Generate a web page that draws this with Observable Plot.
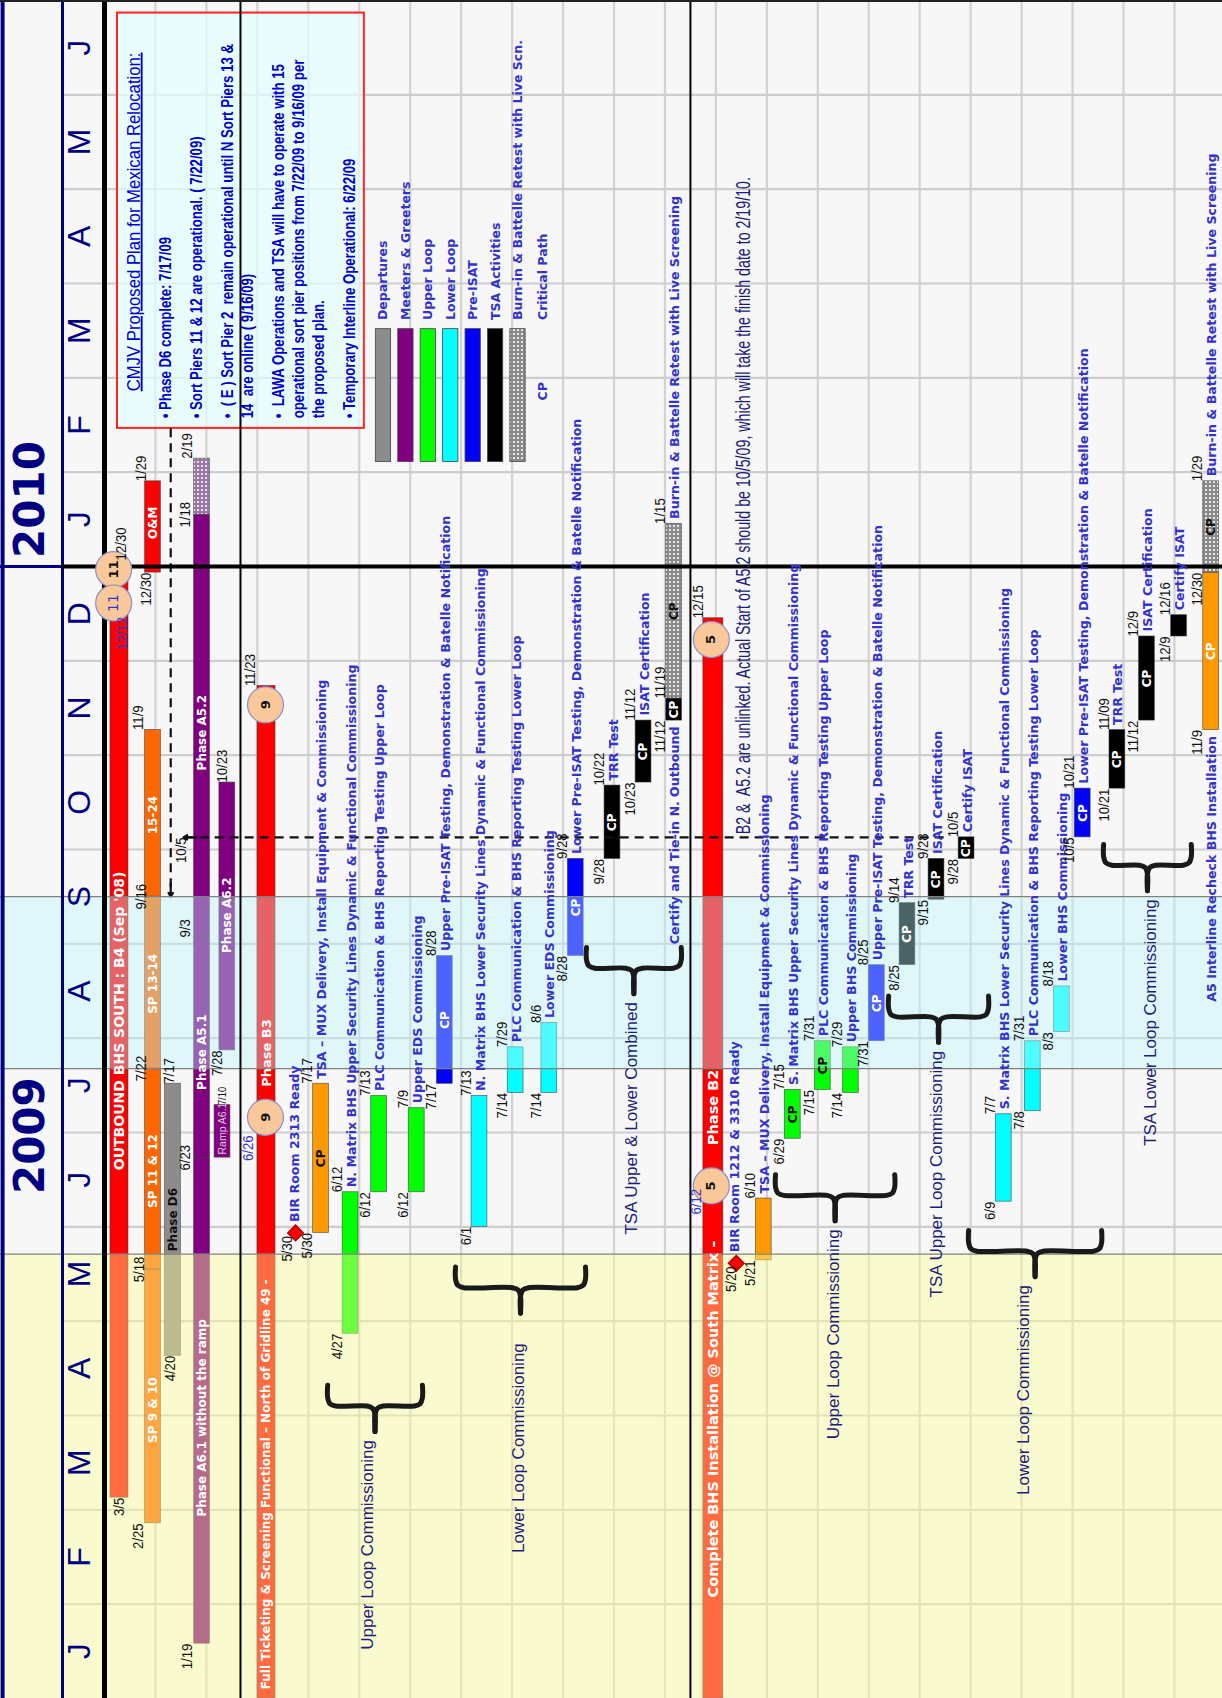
<!DOCTYPE html>
<html><head><meta charset="utf-8">
<script src="https://cdn.jsdelivr.net/npm/d3@7"></script>
<script src="https://cdn.jsdelivr.net/npm/@observablehq/plot@0.6"></script>
<style>
html,body{margin:0;padding:0;background:#f7f7f7;}
#chart{width:1222px;height:1698px;overflow:hidden;}
</style></head><body><div id="chart"></div>
<script>
// ---------------- data ----------------
const months = ["J","F","M","A","M","J","J","A","S","O","N","D","J","F","M","A","M","J"];
const years = [{label:"2009", at:"2009-06-30"}, {label:"2010", at:"2010-01-23"}];

const categories = ["Phase","Sort Piers","Installation","Departures","Meeters & Greeters","Upper Loop","Lower Loop","Pre-ISAT","TSA Activities","Burn-in","Burn-in M&G"];

const tasks = [
 {id:"B4", lane:0.294, start:"2009-03-05", end:"2009-12-30", cat:"Phase", inner:"OUTBOUND BHS SOUTH : B4 (Sep '08)", innerAt:"2009-06-19"},
 {id:"SP9", lane:0.952, start:"2009-02-25", end:"2009-05-18", cat:"Sort Piers", inner:"SP 9 & 10", innerAt:"2009-03-23"},
 {id:"SP11", lane:0.952, start:"2009-05-18", end:"2009-07-22", cat:"Sort Piers", inner:"SP 11 & 12", innerAt:"2009-06-07"},
 {id:"SP13", lane:0.952, start:"2009-07-22", end:"2009-09-16", cat:"Sort Piers", inner:"SP 13-14", innerAt:"2009-08-09"},
 {id:"SP15", lane:0.952, start:"2009-09-16", end:"2009-11-09", cat:"Sort Piers", inner:"15-24", innerAt:"2009-10-06"},
 {id:"OM", lane:0.952, start:"2009-12-30", end:"2010-01-29", cat:"Phase", inner:"O&M", innerAt:"2010-01-10"},
 {id:"D6", lane:1.344, start:"2009-04-20", end:"2009-07-17", cat:"Departures", inner:"Phase D6", innerAt:"2009-05-24"},
 {id:"A61", lane:1.914, start:"2009-01-19", end:"2009-06-23", cat:"Meeters & Greeters", inner:"Phase A6.1 without the ramp", innerAt:"2009-02-27"},
 {id:"A51", lane:1.914, start:"2009-06-23", end:"2009-09-03", cat:"Meeters & Greeters", inner:"Phase A5.1", innerAt:"2009-07-15"},
 {id:"A52", lane:1.914, start:"2009-09-03", end:"2010-01-18", cat:"Meeters & Greeters", inner:"Phase A5.2", innerAt:"2009-10-27"},
 {id:"A52B", lane:1.914, start:"2010-01-18", end:"2010-02-05", cat:"Burn-in M&G"},
 {id:"RAMP", lane:2.316, start:"2009-06-23", end:"2009-07-10", cat:"Meeters & Greeters", inner:"Ramp A6.1", innerAt:"2009-06-24"},
 {id:"A62", lane:2.41, start:"2009-07-28", end:"2009-10-23", cat:"Meeters & Greeters", inner:"Phase A6.2", innerAt:"2009-08-29"},
 {id:"B3", lane:3.18, start:"2009-01-01", end:"2009-11-23", cat:"Phase", inner:"Full Ticketing & Screening Functional \u2013 North of Gridline 49 -", innerAt:"2009-01-04", inner2:"Phase B3", inner2At:"2009-07-16"},
 {id:"TSAN", lane:4.25, start:"2009-05-30", end:"2009-07-17", cat:"Installation", sl:"5/30", el:"7/17", cp:"black", desc:"TSA \u2013 MUX Delivery, Install Equipment & Commissioning"},
 {id:"NUS", lane:4.83, start:"2009-04-27", end:"2009-06-12", cat:"Upper Loop", sl:"4/27", el:"6/12", desc:"N. Matrix BHS Upper Security Lines Dynamic & Functional Commissioning"},
 {id:"NPU", lane:5.39, start:"2009-06-12", end:"2009-07-13", cat:"Upper Loop", sl:"6/12", el:"7/13", desc:"PLC Communication & BHS Reporting Testing Upper Loop"},
 {id:"UEDS", lane:6.13, start:"2009-06-12", end:"2009-07-09", cat:"Upper Loop", sl:"6/12", el:"7/9", desc:"Upper EDS Commissioning"},
 {id:"NUPI", lane:6.68, start:"2009-07-17", end:"2009-08-28", cat:"Pre-ISAT", sl:"7/17", el:"8/28", cp:"white", desc:"Upper Pre-ISAT Testing, Demonstration & Batelle Notification"},
 {id:"NLS", lane:7.36, start:"2009-06-01", end:"2009-07-13", cat:"Lower Loop", sl:"6/1", el:"7/13", desc:"N. Matrix BHS Lower Security Lines Dynamic & Functional Commissioning"},
 {id:"NPL", lane:8.07, start:"2009-07-14", end:"2009-07-29", cat:"Lower Loop", sl:"7/14", el:"7/29", desc:"PLC Communication & BHS Reporting Testing Lower Loop"},
 {id:"LEDS", lane:8.73, start:"2009-07-14", end:"2009-08-06", cat:"Lower Loop", sl:"7/14", el:"8/6", desc:"Lower EDS Commissioning"},
 {id:"NLPI", lane:9.25, start:"2009-08-28", end:"2009-09-28", cat:"Pre-ISAT", sl:"8/28", el:"9/28", cp:"white", desc:"Lower Pre-ISAT Testing, Demonstration & Batelle Notification"},
 {id:"NTRR", lane:9.97, start:"2009-09-28", end:"2009-10-22", cat:"TSA Activities", sl:"9/28", el:"10/22", cp:"white", desc:"TRR Test"},
 {id:"NISAT", lane:10.58, start:"2009-10-23", end:"2009-11-12", cat:"TSA Activities", sl:"10/23", el:"11/12", cp:"white", desc:"ISAT Certification"},
 {id:"NCERT", lane:11.18, start:"2009-11-12", end:"2009-11-19", cat:"TSA Activities", sl:"11/12", el:"11/19", cp:"white", desc:"Certify and Tie-in N. Outbound", descBefore:true},
 {id:"NBURN", lane:11.18, start:"2009-11-19", end:"2010-01-15", cat:"Burn-in", el:"1/15", cp:"black", desc:"Burn-in & Battelle Retest with Live Screening"},
 {id:"B2", lane:11.95, start:"2009-01-01", end:"2009-12-15", cat:"Phase", inner:"Complete BHS Installation @ South Matrix \u2013", innerAt:"2009-02-03", inner2:"Phase B2", inner2At:"2009-06-27"},
 {id:"TSAS", lane:12.94, start:"2009-05-21", end:"2009-06-10", cat:"Installation", sl:"5/21", el:"6/10", desc:"TSA \u2013 MUX Delivery, Install Equipment & Commissioning"},
 {id:"SUS", lane:13.51, start:"2009-06-29", end:"2009-07-15", cat:"Upper Loop", sl:"6/29", el:"7/15", cp:"black", desc:"S. Matrix BHS Upper Security Lines Dynamic & Functional Commissioning"},
 {id:"SPU", lane:14.10, start:"2009-07-15", end:"2009-07-31", cat:"Upper Loop", sl:"7/15", el:"7/31", cp:"black", desc:"PLC Communication & BHS Reporting Testing Upper Loop"},
 {id:"UBHS", lane:14.65, start:"2009-07-14", end:"2009-07-29", cat:"Upper Loop", sl:"7/14", el:"7/29", desc:"Upper BHS Commissioning"},
 {id:"SUPI", lane:15.16, start:"2009-07-31", end:"2009-08-25", cat:"Pre-ISAT", sl:"7/31", el:"8/25", cp:"white", desc:"Upper Pre-ISAT Testing, Demonstration & Batelle Notification"},
 {id:"STRR", lane:15.76, start:"2009-08-25", end:"2009-09-14", cat:"TSA Activities", sl:"8/25", el:"9/14", cp:"white", desc:"TRR Test"},
 {id:"SISAT", lane:16.33, start:"2009-09-15", end:"2009-09-28", cat:"TSA Activities", sl:"9/15", el:"9/28", cp:"white", desc:"ISAT Certification"},
 {id:"SCERT", lane:16.92, start:"2009-09-28", end:"2009-10-05", cat:"TSA Activities", sl:"9/28", el:"10/5", cp:"white", desc:"Certify ISAT"},
 {id:"SLS", lane:17.65, start:"2009-06-09", end:"2009-07-07", cat:"Lower Loop", sl:"6/9", el:"7/7", desc:"S. Matrix BHS Lower Security Lines Dynamic & Functional Commissioning"},
 {id:"SPL", lane:18.22, start:"2009-07-08", end:"2009-07-31", cat:"Lower Loop", sl:"7/8", el:"7/31", desc:"PLC Communication & BHS Reporting Testing Lower Loop"},
 {id:"LBHS", lane:18.79, start:"2009-08-03", end:"2009-08-18", cat:"Lower Loop", sl:"8/3", el:"8/18", desc:"Lower BHS Commissioning"},
 {id:"SLPI", lane:19.20, start:"2009-10-05", end:"2009-10-21", cat:"Pre-ISAT", sl:"10/5", el:"10/21", cp:"white", desc:"Lower Pre-ISAT Testing, Demonstration & Batelle Notification"},
 {id:"STRR2", lane:19.88, start:"2009-10-21", end:"2009-11-09", cat:"TSA Activities", sl:"10/21", el:"11/09", cp:"white", desc:"TRR Test"},
 {id:"SISAT2", lane:20.46, start:"2009-11-12", end:"2009-12-09", cat:"TSA Activities", sl:"11/12", el:"12/9", cp:"white", desc:"ISAT Certification"},
 {id:"SCERT2", lane:21.09, start:"2009-12-09", end:"2009-12-16", cat:"TSA Activities", sl:"12/9", el:"12/16", desc:"Certify ISAT"},
 {id:"A5I", lane:21.72, start:"2009-11-09", end:"2009-12-30", cat:"Installation", sl:"11/9", cp:"white", desc:"A5 Interline Recheck BHS Installation", descBefore:true},
 {id:"SBURN", lane:21.72, start:"2009-12-30", end:"2010-01-29", cat:"Burn-in", sl:"12/30", el:"1/29", cp:"black", desc:"Burn-in & Battelle Retest with Live Screening"}
];

// date labels that do not follow the default left-of-bar placement
const extraLabels = [
 {text:"3/5", lane:0.294, date:"2009-03-05", anchor:"end"},
 {text:"12/30", lane:0.334, date:"2010-01-03", anchor:"start"},
 {text:"2/25", lane:0.667, date:"2009-02-25", anchor:"end"},
 {text:"5/18", lane:0.687, date:"2009-05-18", anchor:"middle"},
 {text:"7/22", lane:0.707, date:"2009-07-22", anchor:"middle"},
 {text:"9/16", lane:0.707, date:"2009-09-16", anchor:"middle"},
 {text:"11/9", lane:0.667, date:"2009-11-09", anchor:"start"},
 {text:"12/30", lane:0.824, date:"2009-12-30", anchor:"end"},
 {text:"1/29", lane:0.726, date:"2010-01-29", anchor:"start"},
 {text:"4/20", lane:1.295, date:"2009-04-20", anchor:"end"},
 {text:"7/17", lane:1.275, date:"2009-07-17", anchor:"start"},
 {text:"1/19", lane:1.629, date:"2009-01-19", anchor:"end"},
 {text:"6/23", lane:1.589, date:"2009-06-23", anchor:"middle"},
 {text:"9/3", lane:1.589, date:"2009-09-03", anchor:"start"},
 {text:"1/18", lane:1.589, date:"2010-01-18", anchor:"middle"},
 {text:"2/19", lane:1.629, date:"2010-02-05", anchor:"start"},
 {text:"7/28", lane:2.218, date:"2009-07-28", anchor:"end"},
 {text:"10/23", lane:2.316, date:"2009-10-23", anchor:"start"},
 {text:"11/23", lane:2.865, date:"2009-11-23", anchor:"start"},
 {text:"5/30", lane:3.59, date:"2009-05-29", anchor:"end"},
 {text:"12/15", lane:11.64, date:"2009-12-15", anchor:"start"},
 {text:"5/20", lane:12.29, date:"2009-05-19", anchor:"end"},
 {text:"10/5", lane:1.51, date:"2009-10-05", anchor:"end"}
];
const smallLabels = [{text:"7/10", lane:2.316, date:"2009-07-10"}];
const blueLabels = [
 {text:"12/12", lane:0.35, date:"2009-12-10"},
 {text:"6/26", lane:2.81, date:"2009-06-26"},
 {text:"6/12", lane:11.60, date:"2009-06-09"}
];

const milestones = [
 {name:"BIR Room 2313 Ready", lane:3.75, date:"2009-05-30"},
 {name:"BIR Room 1212 & 3310 Ready", lane:12.40, date:"2009-05-20"}
];

const circles = [
 {n:"11", lane:0.18, date:"2009-12-31", blue:false},
 {n:"11", lane:0.18, date:"2009-12-20", blue:true},
 {n:"9", lane:3.16, date:"2009-07-06", blue:false},
 {n:"9", lane:3.16, date:"2009-11-17", blue:false},
 {n:"5", lane:11.91, date:"2009-06-14", blue:false},
 {n:"5", lane:11.91, date:"2009-12-08", blue:false}
];

const braces = [
 {text:"Upper Loop Commissioning", from:4.38, to:6.24, at:"2009-04-04", textLane:5.16},
 {text:"Lower Loop Commissioning", from:6.89, to:9.44, at:"2009-05-12", textLane:8.13, textAt:"2009-04-24"},
 {text:"TSA Upper & Lower Combined", from:9.46, to:11.32, at:"2009-08-24", textLane:10.34},
 {text:"Upper Loop Commissioning", from:13.17, to:15.51, at:"2009-06-11", textLane:14.31},
 {text:"TSA Upper Loop Commissioning", from:15.39, to:17.35, at:"2009-08-08", textLane:16.33},
 {text:"Lower Loop Commissioning", from:16.96, to:19.57, at:"2009-05-24", textLane:18.04},
 {text:"TSA Lower Loop Commissioning", from:19.61, to:21.33, at:"2009-09-26", textLane:20.53}
];

const links = [
 {x1:1.30, d1:"2010-02-14", x2:1.30, d2:"2009-09-16"},
 {x1:16.47, d1:"2009-10-05", x2:1.55, d2:"2009-10-05"}
];

const shaded = [
 {from:"2009-01-01", to:"2009-05-23", kind:"yellow"},
 {from:"2009-07-22", to:"2009-09-16", kind:"cyan"}
];

const unlinkNote = {text:"B2 &  A5.2 are unlinked. Actual Start of A5.2 should be 10/5/09, which will take the finish date to 2/19/10.", lane:12.54, at:"2009-10-06"};

const planTitle = "CMJV Proposed Plan for Mexican Relocation:";
const planLines = [
 "\u2022 Phase D6 complete: 7/17/09",
 "\u2022 Sort Piers 11 & 12 are operational. ( 7/22/09)",
 "\u2022  ( E ) Sort Pier 2  remain operational until N Sort Piers 13 &",
 "14  are online ( 9/16/09)",
 "\u2022  LAWA Operations and TSA will have to operate with 15",
 "operational sort pier positions from 7/22/09 to 9/16/09 per",
 "the proposed plan.",
 "\u2022 Temporary Interline Operational: 6/22/09"
];
const legendKeys = ["Departures","Meeters & Greeters","Upper Loop","Lower Loop","Pre-ISAT","TSA Activities","Burn-in"];
const legendLabels = ["Departures","Meeters & Greeters","Upper Loop","Lower Loop","Pre-ISAT","TSA Activities","Burn-in & Battelle Retest with Live Scn."];

// ---------------- styles / layout ----------------
const catColors = ["#ff0000","#ff6600","#ff9900","#8c8c8c","#800080","#00ff00","#00ffff","#0000ff","#000000","url(#burn)","url(#burnp)"];
const X0 = -2.041, X1 = 21.943;
const NAVY = "#000080", BLUE = "#3333cc", DARK = "#1c1c7c", LBLUE = "#0000cc";
const F_B = "DejaVu Sans, Verdana, sans-serif";
const F_A = "'Liberation Sans', Arial, sans-serif";
// Arial-Narrow look: Liberation Sans at a reduced size, stretched back across the line (tag = stretch factor)
const narrow = (size, f) => ({fontSize: size*f, fontFamily: `'Liberation Sans', Arial, sans-serif, nr${Math.round(100/f)}`});
const WIDE = {B4:0.177, B3:0.177, B2:0.196};
const hw = d => WIDE[d.id] ?? 0.155;
const OFF = -0.27;

function mf(s){
  const [y,m,d] = s.split("-").map(Number);
  const dim = new Date(Date.UTC(y, m, 0)).getUTCDate();
  return (y-2009)*12 + (m-1) + (d-1)/dim;
}

const labels = [
  ...tasks.filter(d=>d.sl).map(d=>({text:d.sl, lane:d.lane+OFF, m:mf(d.start), anchor:"end"})),
  ...tasks.filter(d=>d.el).map(d=>({text:d.el, lane:d.lane+OFF, m:mf(d.end), anchor:"start"})),
  ...extraLabels.map(d=>({text:d.text, lane:d.lane, m:mf(d.date), anchor:d.anchor}))
];

const bracePts = [];
braces.forEach((b,i)=>{
  const h = mf(b.at), c = (b.from+b.to)/2;
  [[b.from,1],[b.to,-1]].forEach(([e,s],k)=>{
    const pts = [[e,h+0.22],[e,h+0.09],[e+s*0.045,h+0.025],[e+s*0.16,h],[c-s*0.16,h],[c-s*0.045,h-0.025],[c,h-0.09],[c,h-0.27]];
    pts.forEach(p=>bracePts.push({x:p[0], y:p[1], z:i+"-"+k}));
  });
});

const legendLane0 = 5.476, legendStep = 0.44;
const planLanes = [];
{ let px = 165; planLines.forEach((t,i)=>{ if(i>0) px += t.startsWith("\u2022") ? 31 : 20; planLanes.push((px-104)/50.95); }); }

const txt = (data, o) => Plot.text(data, {rotate:-90, ...o});
const DESC = 12.6;

const plot = Plot.plot({
  width:1222, height:1698,
  marginTop:0, marginRight:0, marginBottom:0, marginLeft:0,
  x:{domain:[X0,X1], axis:null},
  y:{domain:[0,18], axis:null},
  color:{type:"ordinal", domain:categories, range:catColors},
  style:{background:"#f7f7f7", overflow:"visible"},
  marks:[
    Plot.ruleX(d3.range(1,22), {stroke:"#d2d2d2", strokeWidth:2.2}),
    Plot.ruleY(d3.range(1,18), {x1:-0.824, x2:X1, stroke:"#cdcdcd", strokeWidth:2.2}),
    Plot.rect([0], {x1:0.255, x2:5.10, y1:mf("2010-02-14"), y2:mf("2010-06-27"), fill:"#e3ffff", fillOpacity:0.7, stroke:"#ff2222", strokeWidth:2}),
    Plot.rect(tasks, {x1:d=>d.lane-hw(d), x2:d=>d.lane+hw(d), y1:d=>mf(d.start), y2:d=>mf(d.end), fill:"cat", stroke:"#333", strokeOpacity:0.65, strokeWidth:0.8}),
    Plot.rect(legendKeys, {x1:(d,i)=>legendLane0+i*legendStep-0.15, x2:(d,i)=>legendLane0+i*legendStep+0.15, y1:mf("2010-02-04"), y2:mf("2010-03-17"), fill:d=>d, stroke:"#444", strokeWidth:0.8}),
    Plot.link(links, {x1:"x1", y1:d=>mf(d.d1), x2:"x2", y2:d=>mf(d.d2), stroke:"#111", strokeWidth:2.2, strokeDasharray:"9,6"}),
    Plot.arrow(links, {x1:d=>d.x2+Math.sign(d.x1-d.x2)*0.25, y1:d=>mf(d.d2)+Math.sign(mf(d.d1)-mf(d.d2))*0.14, x2:"x2", y2:d=>mf(d.d2), stroke:"#111", strokeWidth:2.2, headLength:11}),
    Plot.rect(shaded.filter(d=>d.kind==="yellow"), {x1:X0, x2:X1, y1:d=>mf(d.from), y2:d=>mf(d.to), fill:"#ffff99", fillOpacity:0.42}),
    Plot.rect(shaded.filter(d=>d.kind==="cyan"), {x1:X0, x2:X1, y1:d=>mf(d.from), y2:d=>mf(d.to), fill:"#bff8ff", fillOpacity:0.4}),
    Plot.ruleY([mf("2009-05-23"), mf("2009-07-22"), mf("2009-09-16")], {stroke:"#808080", strokeWidth:1.2}),
    Plot.line(bracePts, {x:"x", y:"y", z:"z", curve:"catmull-rom", stroke:"#1a1a1a", strokeWidth:5, strokeLinecap:"round", strokeLinejoin:"round"}),
    Plot.ruleX([-2.0], {stroke:NAVY, strokeWidth:4}),
    Plot.ruleX([-0.824], {stroke:NAVY, strokeWidth:3}),
    Plot.ruleX([0], {stroke:"#000", strokeWidth:5}),
    Plot.ruleX([2.669, 11.50], {stroke:"#000", strokeWidth:2}),
    Plot.ruleY([12], {x1:X0, x2:-0.824, stroke:NAVY, strokeWidth:3}),
    Plot.ruleY([12], {x1:-0.824, x2:X1, stroke:"#000", strokeWidth:4}),
    Plot.ruleY([18], {x1:X0, x2:X1, stroke:"#222", strokeWidth:3}),
    Plot.dot(milestones, {x:"lane", y:d=>mf(d.date), symbol:"diamond2", r:7, fill:"#ff0000", stroke:"#b00000"}),
    Plot.dot(circles, {x:"lane", y:d=>mf(d.date), r:18, fill:"#f9c89a", stroke:"#8f8fc8", strokeWidth:1.2}),
    txt(circles.filter(d=>!d.blue), {x:"lane", y:d=>mf(d.date), text:"n", fill:"#111", fontFamily:F_B, fontWeight:"bold", fontSize:13}),
    txt(circles.filter(d=>d.blue), {x:"lane", y:d=>mf(d.date), text:"n", fill:BLUE, fontFamily:F_B, fontSize:14}),
    txt(months, {x:-0.49, y:(d,i)=>i+0.5, text:d=>d, fill:NAVY, fontFamily:F_A, fontSize:32}),
    txt(years, {x:-1.45, y:d=>mf(d.at), text:"label", fill:NAVY, fontFamily:F_B, fontWeight:"bold", fontSize:42}),
    txt(tasks.filter(d=>d.inner && d.id!=="D6" && d.id!=="RAMP"), {x:"lane", y:d=>mf(d.innerAt), text:"inner", textAnchor:"start", fill:"white", fontFamily:F_B, fontWeight:"bold", fontSize:d=>d.id==="B4"?14:(d.id==="B2"?14.5:12)}),
    txt(tasks.filter(d=>d.inner2), {x:"lane", y:d=>mf(d.inner2At), text:"inner2", textAnchor:"start", fill:"white", fontFamily:F_B, fontWeight:"bold", fontSize:d=>d.id==="B2"?14.5:13}),
    txt(tasks.filter(d=>d.id==="D6"), {x:"lane", y:d=>mf(d.innerAt), text:"inner", textAnchor:"start", fill:"#111", fontFamily:F_B, fontWeight:"bold", fontSize:12}),
    txt(tasks.filter(d=>d.id==="RAMP"), {x:"lane", y:d=>mf(d.innerAt), text:"inner", textAnchor:"start", fill:"#e2c6e2", fontFamily:F_A, fontSize:10.5}),
    txt(tasks.filter(d=>d.cp==="white"), {x:"lane", y:d=>(mf(d.start)+mf(d.end))/2, text:()=>"CP", fill:"white", fontFamily:F_B, fontWeight:"bold", fontSize:12}),
    txt(tasks.filter(d=>d.cp==="black"), {x:"lane", y:d=>(mf(d.start)+mf(d.end))/2, text:()=>"CP", fill:"#111", fontFamily:F_B, fontWeight:"bold", fontSize:12}),
    txt(tasks.filter(d=>d.desc && !d.descBefore), {x:d=>d.lane+0.02, y:d=>mf(d.end), text:"desc", textAnchor:"start", dy:-5, fill:BLUE, fontFamily:F_B, fontWeight:"bold", fontSize:DESC}),
    txt(tasks.filter(d=>d.desc && d.descBefore), {x:d=>d.lane+0.02, y:d=>mf(d.start), text:"desc", textAnchor:"end", dy:6, fill:BLUE, fontFamily:F_B, fontWeight:"bold", fontSize:DESC}),
    txt(milestones, {x:d=>d.lane-0.02, y:d=>mf(d.date), text:"name", textAnchor:"start", dy:-11, fill:BLUE, fontFamily:F_B, fontWeight:"bold", fontSize:DESC}),
    ...["start","middle","end"].map(a => txt(labels.filter(d=>d.anchor===a), {x:"lane", y:"m", text:"text", textAnchor:a, fill:"#111", ...narrow(15.5, 0.85)})),
    txt(smallLabels, {x:"lane", y:d=>mf(d.date), text:"text", textAnchor:"start", fill:"#111", ...narrow(11, 0.85)}),
    txt(blueLabels, {x:"lane", y:d=>mf(d.date), text:"text", textAnchor:"middle", fill:BLUE, ...narrow(15.5, 0.85)}),
    txt(braces, {x:"textLane", y:d=>d.textAt ? mf(d.textAt) : mf(d.at)-0.36, text:"text", textAnchor:"end", fill:DARK, fontFamily:F_A, fontSize:17}),
    txt([unlinkNote], {x:"lane", y:d=>mf(d.at), text:"text", textAnchor:"start", fill:DARK, ...narrow(19.5, 0.73)}),
    txt([planTitle], {x:0.57, y:mf("2010-02-25"), text:d=>d, textAnchor:"start", fill:LBLUE, ...narrow(19, 0.88)}),
    txt(planLines, {x:(d,i)=>planLanes[i], y:mf("2010-02-17"), text:d=>d, textAnchor:"start", fill:LBLUE, fontWeight:"bold", ...narrow(16.5, 0.8)}),
    txt(legendLabels, {x:(d,i)=>legendLane0+i*legendStep, y:mf("2010-03-20"), text:d=>d, textAnchor:"start", fill:BLUE, fontFamily:F_B, fontWeight:"bold", fontSize:12.5}),
    txt(["Critical Path"], {x:legendLane0+7*legendStep+0.05, y:mf("2010-03-20"), text:d=>d, textAnchor:"start", fill:BLUE, fontFamily:F_B, fontWeight:"bold", fontSize:12.5}),
    txt(["CP"], {x:legendLane0+7*legendStep+0.05, y:mf("2010-02-25"), text:d=>d, textAnchor:"middle", fill:BLUE, fontFamily:F_B, fontWeight:"bold", fontSize:12.5})
  ]
});

const defs = d3.select(plot).insert("defs", ":first-child");
const p1 = defs.append("pattern").attr("id","burn").attr("width",4).attr("height",4).attr("patternUnits","userSpaceOnUse");
p1.append("rect").attr("width",4).attr("height",4).attr("fill","#8a8a8a");
p1.append("rect").attr("x",1).attr("y",1).attr("width",2).attr("height",2).attr("fill","#e6e6e6");
const p2 = defs.append("pattern").attr("id","burnp").attr("width",4).attr("height",4).attr("patternUnits","userSpaceOnUse");
p2.append("rect").attr("width",4).attr("height",4).attr("fill","#9a78a6");
p2.append("rect").attr("x",1).attr("y",1).attr("width",2).attr("height",2).attr("fill","#e8dde8");
d3.select(plot).selectAll("text").filter(function(){return this.textContent.startsWith("CMJV");}).style("text-decoration","underline");

// stretch the narrow texts across the line so glyph height matches while width stays condensed
d3.select(plot).selectAll("g[font-family*='nr']").each(function(){
  const m = /nr(\d+)$/.exec(this.getAttribute("font-family")); if (!m) return;
  const s = (+m[1]/100).toFixed(3);
  d3.select(this).selectAll("text").each(function(){
    const t = this.getAttribute("transform") || "";
    this.setAttribute("transform", `${t} scale(1,${s})`);
  });
});

document.getElementById("chart").append(plot);
</script></body></html>
